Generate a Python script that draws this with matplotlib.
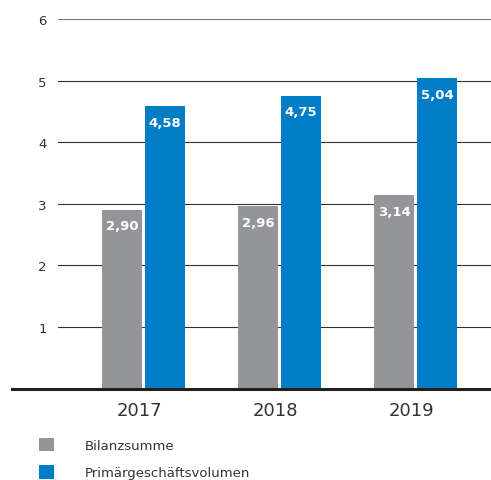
import matplotlib
matplotlib.use("Agg")
import matplotlib.pyplot as plt
import matplotlib.transforms as mtransforms
from matplotlib.lines import Line2D
import numpy as np

years = ["2017", "2018", "2019"]
bilanzsumme = [2.90, 2.96, 3.14]
primaer = [4.58, 4.75, 5.04]
series_names = ["Bilanzsumme", "Primärgeschäftsvolumen"]
yticks = [1, 2, 3, 4, 5, 6]

GRAY = "#939598"
BLUE = "#007DC5"
TXT = "#333333"

W, H = 491, 481
fig = plt.figure(figsize=(W / 100, H / 100), dpi=100)
ax = fig.add_axes([58 / W, (H - 389.5) / H, 433 / W, 369.5 / H])

x = np.arange(len(years))
bw = 40 / 136
off = 21.5 / 136
b1 = ax.bar(x - off, bilanzsumme, bw, color=GRAY, label=series_names[0], zorder=3)
b2 = ax.bar(x + off, primaer, bw, color=BLUE, label=series_names[1], zorder=3)

for bars, vals in ((b1, bilanzsumme), (b2, primaer)):
    for r, v in zip(bars, vals):
        ax.annotate(f"{v:.2f}".replace(".", ","),
                    (r.get_x() + r.get_width() / 2, r.get_height()),
                    xytext=(0, -11.5), textcoords="offset points",
                    ha="center", va="center", color="white",
                    fontsize=9.5, fontweight="bold", zorder=4)

ax.set_xlim(-(143.5 - 58) / 136, 2 + (491 - 415.5) / 136)
ax.set_ylim(0, 6)
for t in yticks:
    ax.axhline(t, color="#333333" if t < 6 else "#777777", lw=0.8, zorder=1)

ax.set_yticks(yticks)
ax.set_yticklabels([str(t) for t in yticks])
ax.tick_params(axis="y", length=0, pad=8, labelsize=9.5, labelcolor=TXT)
ax.set_xticks(x)
ax.set_xticklabels(years)
ax.tick_params(axis="x", length=0, pad=9, labelsize=13, labelcolor=TXT)
shift = mtransforms.ScaledTranslation(-4.5 / 100, 0, fig.dpi_scale_trans)
for lab in ax.get_xticklabels():
    lab.set_transform(lab.get_transform() + shift)

for s in ax.spines.values():
    s.set_visible(False)

# baseline extending to the left
fig.add_artist(Line2D([12 / W, 1], [(H - 390) / H] * 2, color="#231f20", lw=2.2,
                      transform=fig.transFigure, zorder=5))

leg = fig.legend(handles=[b1, b2], labels=series_names,
                 loc="upper left", bbox_to_anchor=(30 / W, (H - 430) / H),
                 frameon=False, fontsize=9.5, labelcolor=TXT,
                 handlelength=1.15, handleheight=1.15, handletextpad=2.3,
                 labelspacing=1.0, borderpad=0.2)

fig.savefig("out.png", dpi=100)
